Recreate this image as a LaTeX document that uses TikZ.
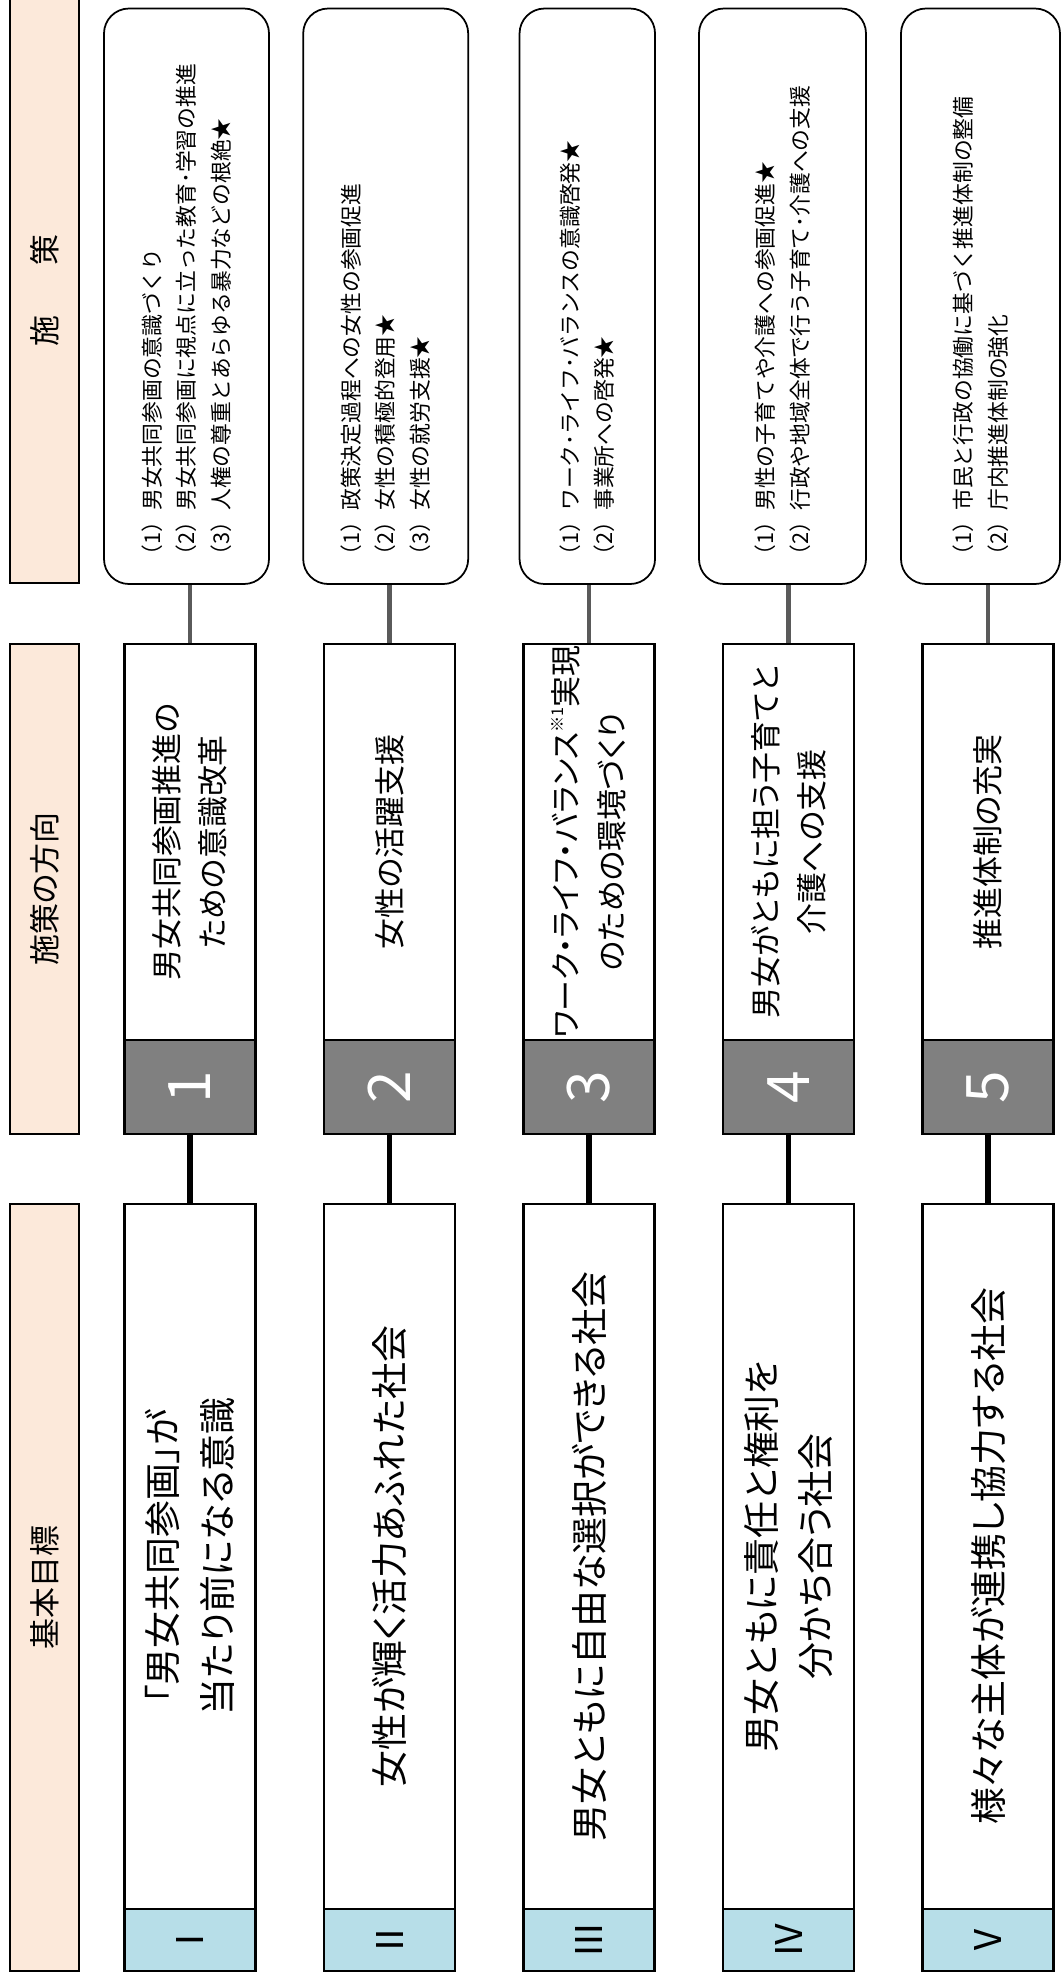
\documentclass[tikz,border=0pt]{standalone}
\usepackage{fontspec}
\setmainfont{Noto Sans CJK JP}[RawFeature=+palt]
\newfontfamily\fullwidthfont{Noto Sans CJK JP}
\definecolor{headpeach}{RGB}{252,233,218}
\definecolor{goalblue}{RGB}{183,222,232}
\definecolor{numgray}{RGB}{128,128,128}
\definecolor{linkgray}{RGB}{90,90,90}
\usetikzlibrary{positioning}

\tikzset{
  headbox/.style={draw, line width=0.75pt, fill=headpeach, rotate=90, minimum height=0.69cm, inner sep=0pt, font=\fontsize{8.8}{10}\selectfont},
  policybox/.style={draw, line width=0.5pt, rounded corners=0.25cm, rotate=90, inner sep=0pt, text width=5.4cm, align=left, minimum width=5.755cm, font=\fullwidthfont\fontsize{6.2}{9.8}\selectfont},
  dirbox/.style={draw, line width=0.75pt, fill=white, rotate=90, minimum width=3.96cm, minimum height=1.31cm, inner sep=0pt, align=center, font=\fontsize{8.8}{13.1}\selectfont},
  numbox/.style={draw, line width=0.75pt, fill=numgray, text=white, rotate=90, minimum width=0.94cm, minimum height=1.31cm, inner sep=0pt, font=\fontsize{16.7}{18}\selectfont},
  goalbox/.style={draw, line width=0.75pt, fill=white, rotate=90, minimum width=7.05cm, minimum height=1.31cm, inner sep=0pt, align=center, font=\fontsize{10.5}{15.6}\selectfont},
  romanbox/.style={draw, line width=0.75pt, fill=goalblue, rotate=90, minimum width=0.62cm, minimum height=1.31cm, inner sep=0pt, font=\fontsize{10.5}{12}\selectfont},
  thinlink/.style={draw=linkgray, line width=1.15pt},
  thicklink/.style={draw=black, line width=1.7pt}
}

\begin{document}
\begin{tikzpicture}
  \useasboundingbox (0,0) rectangle (10.61,-19.79);

  % Column headers
  \node[headbox, minimum width=5.85cm] (hdPolicy) at (0.445,-2.905) {施\hspace{1.65em}策};
  \node[headbox, minimum width=4.90cm] (hdDir) at (0.445,-8.89) {施策の方向};
  \node[headbox, minimum width=7.67cm] (hdGoal) at (0.445,-15.875) {基本目標};

  % Policies
  \node[policybox, minimum height=1.65cm] (pol1) at (1.865,-2.9625) {
    （1）男女共同参画の意識づくり\\
    （2）男女共同参画に視点に立った教育･学習の推進\\
    （3）人権の尊重とあらゆる暴力などの根絶★};
  \node[policybox, minimum height=1.65cm] (pol2) at (3.857,-2.9625) {
    （1）政策決定過程への女性の参画促進\\
    （2）女性の積極的登用★\\
    （3）女性の就労支援★};
  \node[policybox, minimum height=1.355cm] (pol3) at (5.873,-2.9625) {
    （1）ワーク･ライフ･バランスの意識啓発★\\
    （2）事業所への啓発★};
  \node[policybox, minimum height=1.67cm] (pol4) at (7.825,-2.9625) {
    （1）男性の子育てや介護への参画促進★\\
    （2）行政や地域全体で行う子育て･介護への支援};
  \node[policybox, minimum height=1.59cm] (pol5) at (9.805,-2.9625) {
    （1）市民と行政の協働に基づく推進体制の整備\\
    （2）庁内推進体制の強化};

  % Directions with numbers
  \node[dirbox] (dir1) at (1.90,-8.42) {男女共同参画推進の\\ための意識改革};
  \node[numbox] (num1) at (1.90,-10.87) {1};
  \node[dirbox] (dir2) at (3.895,-8.42) {女性の活躍支援};
  \node[numbox] (num2) at (3.895,-10.87) {2};
  \node[dirbox] (dir3) at (5.89,-8.42) {ワーク・ライフ・バランス\raisebox{0.45em}{\fontsize{4.6}{5}\selectfont ※1}実現\\のための環境づくり};
  \node[numbox] (num3) at (5.89,-10.87) {3};
  \node[dirbox] (dir4) at (7.885,-8.42) {男女がともに担う子育てと\\介護への支援};
  \node[numbox] (num4) at (7.885,-10.87) {4};
  \node[dirbox] (dir5) at (9.88,-8.42) {推進体制の充実};
  \node[numbox] (num5) at (9.88,-10.87) {5};

  % Basic goals
  \node[goalbox] (goal1) at (1.90,-15.565) {「男女共同参画」が\\当たり前になる意識};
  \node[romanbox] (rom1) at (1.90,-19.40) {Ⅰ};
  \node[goalbox] (goal2) at (3.895,-15.565) {女性が輝く活力あふれた社会};
  \node[romanbox] (rom2) at (3.895,-19.40) {Ⅱ};
  \node[goalbox] (goal3) at (5.89,-15.565) {男女ともに自由な選択ができる社会};
  \node[romanbox] (rom3) at (5.89,-19.40) {Ⅲ};
  \node[goalbox] (goal4) at (7.885,-15.565) {男女ともに責任と権利を\\分かち合う社会};
  \node[romanbox] (rom4) at (7.885,-19.40) {Ⅳ};
  \node[goalbox] (goal5) at (9.88,-15.565) {様々な主体が連携し協力する社会};
  \node[romanbox] (rom5) at (9.88,-19.40) {Ⅴ};

  % Links
  \draw[thinlink] (dir1.east) -- (dir1.east |- pol1.west);
  \draw[thinlink] (dir2.east) -- (dir2.east |- pol2.west);
  \draw[thinlink] (dir3.east) -- (dir3.east |- pol3.west);
  \draw[thinlink] (dir4.east) -- (dir4.east |- pol4.west);
  \draw[thinlink] (dir5.east) -- (dir5.east |- pol5.west);
  \draw[thicklink] (num1.west) -- (goal1.east);
  \draw[thicklink] (num2.west) -- (goal2.east);
  \draw[thicklink] (num3.west) -- (goal3.east);
  \draw[thicklink] (num4.west) -- (goal4.east);
  \draw[thicklink] (num5.west) -- (goal5.east);
\end{tikzpicture}
\end{document}
